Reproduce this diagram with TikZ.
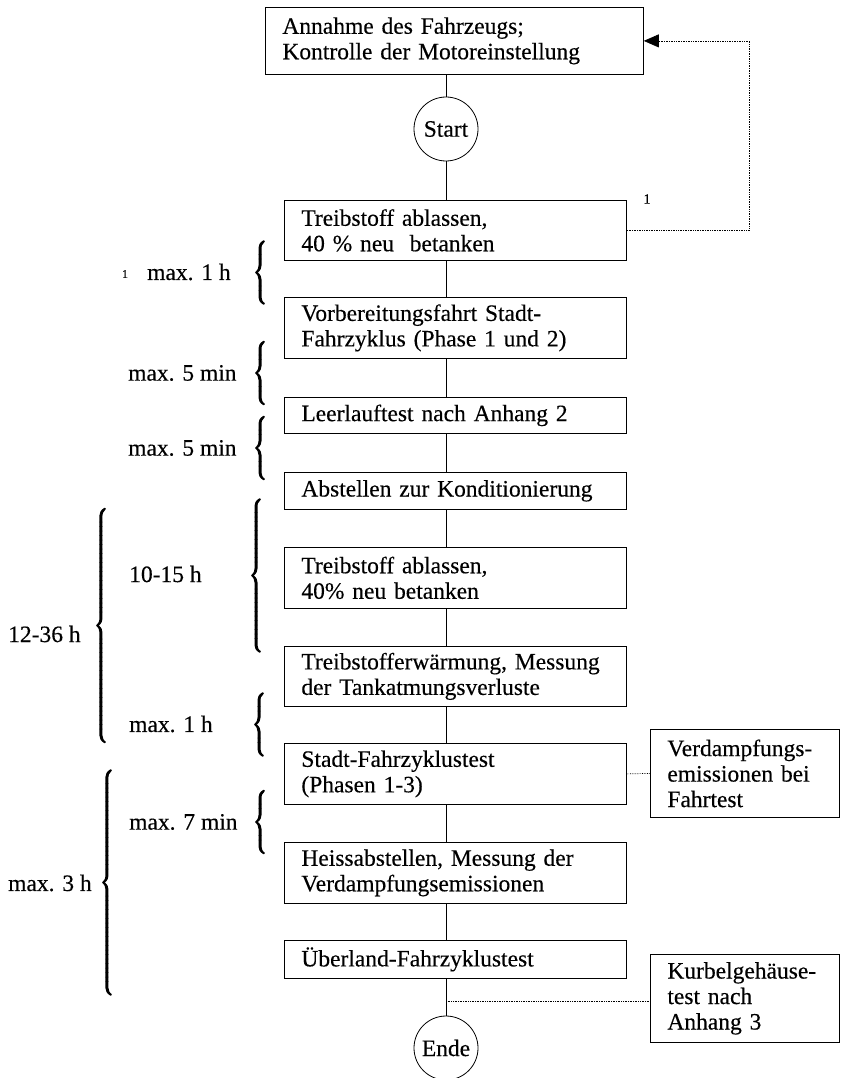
\documentclass[tikz,border=0pt]{standalone}
\usepackage{fontspec}
\setmainfont{Liberation Serif}[FakeBold=0.3]
\usetikzlibrary{arrows.meta}
\newcommand\fs{\fontsize{23.5}{25.5}\selectfont}
\newcommand\tbrace[1]{{\delimiterfactor=1000 \delimitershortfall=0pt \nulldelimiterspace=0pt \special{pdf:literal direct 2 Tr 0.8 w}$\left\{\vcenter{\hrule height #1 width 0pt}\right.$\special{pdf:literal direct 0 Tr}}}
\begin{document}
\begin{tikzpicture}[x=1pt,y=-1pt,
  box/.style={draw, line width=0.8pt, anchor=north west, inner xsep=17pt, inner ysep=0pt, align=left, font=\fs},
  mbox/.style={box, text width=308pt},
  sbox/.style={box, text width=155pt, minimum height=88pt},
  term/.style={draw, circle, line width=0.8pt, minimum size=64pt, inner sep=0pt, font=\fs},
  lab/.style={inner sep=0pt, font=\fs, anchor=west},
  note/.style={inner sep=0pt},
  brc/.style={inner sep=0pt, scale=1.5},
  spine/.style={line width=0.8pt},
  dots/.style={densely dotted, line width=0.7pt}]
\useasboundingbox (0,0) rectangle (846,1078);
% main column
\node[box, text width=344pt, minimum height=67pt] (b1) at (265,7) {Annahme des Fahrzeugs;\\Kontrolle der Motoreinstellung};
\node[term] (st) at (446,129) {Start};
\node[mbox, minimum height=60pt] (b2) at (284,200) {Treibstoff ablassen,\\40 \% neu\ \ betanken};
\node[mbox, minimum height=61pt] (b3) at (284,297) {Vorbereitungsfahrt Stadt-\\Fahrzyklus (Phase 1 und 2)};
\node[mbox, minimum height=36pt] (b4) at (284,397) {Leerlauftest nach Anhang 2};
\node[mbox, minimum height=37pt] (b5) at (284,472) {Abstellen zur Konditionierung};
\node[mbox, minimum height=61pt] (b6) at (284,547) {Treibstoff ablassen,\\40\% neu betanken};
\node[mbox, minimum height=60pt] (b7) at (284,646) {Treibstofferwärmung, Messung\\der Tankatmungsverluste};
\node[mbox, minimum height=61pt] (b8) at (284,743) {Stadt-Fahrzyklustest\\(Phasen 1-3)};
\node[mbox, minimum height=61pt] (b9) at (284,842) {Heissabstellen, Messung der\\Verdampfungsemissionen};
\node[mbox, minimum height=38pt] (b10) at (284,940) {Überland-Fahrzyklustest};
\node[term] (en) at (446,1048) {Ende};
% side boxes
\node[sbox] (vb) at (650,729) {Verdampfungs-\\emissionen bei\\Fahrtest};
\node[sbox] (kb) at (650,954) {Kurbelgehäuse-\\test nach\\Anhang 3};
% spine
\draw[spine] (b1.south -| st.center) -- (st.north);
\draw[spine] (st.south) -- (b2.north -| st.center);
\draw[spine] (b2.south -| st.center) -- (b3.north -| st.center);
\draw[spine] (b3.south -| st.center) -- (b4.north -| st.center);
\draw[spine] (b4.south -| st.center) -- (b5.north -| st.center);
\draw[spine] (b5.south -| st.center) -- (b6.north -| st.center);
\draw[spine] (b6.south -| st.center) -- (b7.north -| st.center);
\draw[spine] (b7.south -| st.center) -- (b8.north -| st.center);
\draw[spine] (b8.south -| st.center) -- (b9.north -| st.center);
\draw[spine] (b9.south -| st.center) -- (b10.north -| st.center);
\draw[spine] (b10.south -| en.center) -- (en.north);
% dotted connectors
\coordinate (fb) at (749,0);
\draw[dots, -{Triangle[length=15pt, width=13pt]}] (b2.east) -| (fb |- b1.east) -- (b1.east);
\draw[dots] (b8.east) -- (vb.west);
\coordinate (kc) at (446,1001);
\draw[dots] (kc) -- (kc -| kb.west);
% footnote marks
\node[note, font=\fontsize{14}{16}\selectfont] (n1) at (647,199) {1};
\node[note, font=\fontsize{12}{14}\selectfont] (n2) at (125,274) {1};
% time labels
\node[lab] (t1) at (147,272) {max. 1 h};
\node[lab] (t2) at (128,373) {max. 5 min};
\node[lab] (t3) at (128,448) {max. 5 min};
\node[lab] (t4) at (129,574) {10-15 h};
\node[lab] (t5) at (8,634) {12-36 h};
\node[lab] (t6) at (129,724) {max. 1 h};
\node[lab] (t7) at (129,822) {max. 7 min};
\node[lab] (t8) at (8,883) {max. 3 h};
% braces
\node[brc] (r1) at (260,272.5) {\tbrace{38pt}};
\node[brc] (r2) at (260,373) {\tbrace{38.5pt}};
\node[brc] (r3) at (260,448) {\tbrace{38.5pt}};
\node[brc] (r4) at (256,575.5) {\tbrace{97pt}};
\node[brc] (r5) at (101,625.5) {\tbrace{154pt}};
\node[brc] (r6) at (259,724.5) {\tbrace{38pt}};
\node[brc] (r7) at (260,822) {\tbrace{38.5pt}};
\node[brc] (r8) at (107,882.5) {\tbrace{145pt}};
\end{tikzpicture}
\end{document}
